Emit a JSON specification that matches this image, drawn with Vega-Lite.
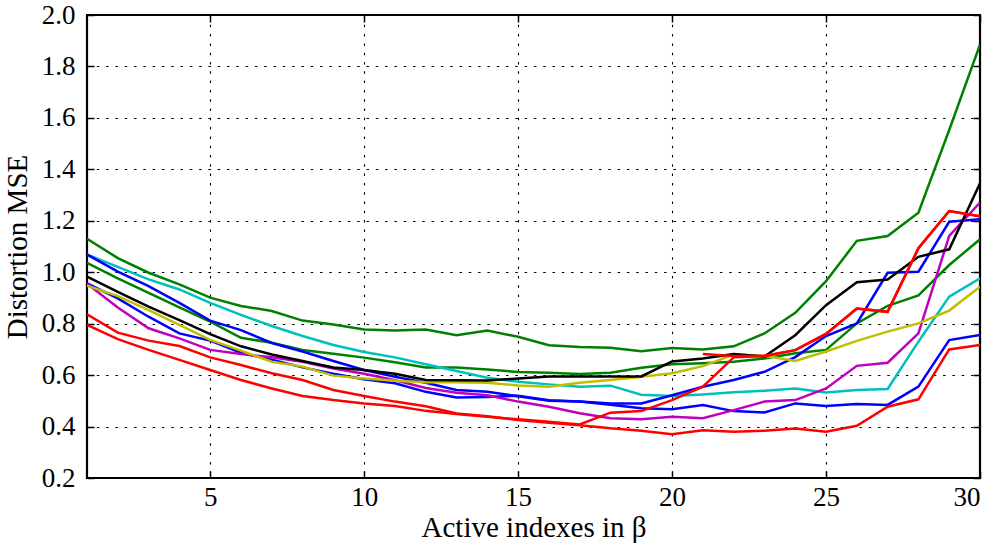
{
 "$schema": "https://vega.github.io/schema/vega-lite/v6.json",
 "width": 893,
 "height": 463,
 "autosize": {"type": "none"},
 "padding": {"left": 87, "top": 15, "right": 15, "bottom": 66},
 "background": "white",
 "config": {
  "view": {"stroke": "black", "strokeWidth": 2.2},
  "font": "Liberation Serif",
  "axis": {
   "domain": false,
   "grid": true,
   "gridColor": "black",
   "gridDash": [2.5, 6.8],
   "gridWidth": 1.1,
   "gridOpacity": 1,
   "tickColor": "black",
   "tickSize": -7,
   "tickWidth": 1.5,
   "labelFont": "Liberation Serif",
   "labelFontSize": 27,
   "labelColor": "black",
   "titleFont": "Liberation Serif",
   "titleFontSize": 29,
   "titleFontWeight": "normal",
   "titleColor": "black"
  }
 },
 "data": {"values": [
  {"s":"g1","x":1,"y":1.13},{"s":"g1","x":2,"y":1.055},{"s":"g1","x":3,"y":0.998},{"s":"g1","x":4,"y":0.953},{"s":"g1","x":5,"y":0.901},{"s":"g1","x":6,"y":0.869},{"s":"g1","x":7,"y":0.849},{"s":"g1","x":8,"y":0.812},{"s":"g1","x":9,"y":0.797},{"s":"g1","x":10,"y":0.777},{"s":"g1","x":11,"y":0.773},{"s":"g1","x":12,"y":0.777},{"s":"g1","x":13,"y":0.755},{"s":"g1","x":14,"y":0.773},{"s":"g1","x":15,"y":0.749},{"s":"g1","x":16,"y":0.716},{"s":"g1","x":17,"y":0.709},{"s":"g1","x":18,"y":0.706},{"s":"g1","x":19,"y":0.693},{"s":"g1","x":20,"y":0.705},{"s":"g1","x":21,"y":0.7},{"s":"g1","x":22,"y":0.712},{"s":"g1","x":23,"y":0.762},{"s":"g1","x":24,"y":0.842},{"s":"g1","x":25,"y":0.965},{"s":"g1","x":26,"y":1.122},{"s":"g1","x":27,"y":1.141},{"s":"g1","x":28,"y":1.231},{"s":"g1","x":29,"y":1.553},{"s":"g1","x":30,"y":1.885},
  {"s":"g2","x":1,"y":1.036},{"s":"g2","x":2,"y":0.976},{"s":"g2","x":3,"y":0.92},{"s":"g2","x":4,"y":0.863},{"s":"g2","x":5,"y":0.808},{"s":"g2","x":6,"y":0.745},{"s":"g2","x":7,"y":0.726},{"s":"g2","x":8,"y":0.698},{"s":"g2","x":9,"y":0.683},{"s":"g2","x":10,"y":0.668},{"s":"g2","x":11,"y":0.65},{"s":"g2","x":12,"y":0.63},{"s":"g2","x":13,"y":0.63},{"s":"g2","x":14,"y":0.622},{"s":"g2","x":15,"y":0.612},{"s":"g2","x":16,"y":0.609},{"s":"g2","x":17,"y":0.604},{"s":"g2","x":18,"y":0.609},{"s":"g2","x":19,"y":0.629},{"s":"g2","x":20,"y":0.642},{"s":"g2","x":21,"y":0.646},{"s":"g2","x":22,"y":0.652},{"s":"g2","x":23,"y":0.665},{"s":"g2","x":24,"y":0.685},{"s":"g2","x":25,"y":0.698},{"s":"g2","x":26,"y":0.801},{"s":"g2","x":27,"y":0.869},{"s":"g2","x":28,"y":0.91},{"s":"g2","x":29,"y":1.028},{"s":"g2","x":30,"y":1.128},
  {"s":"c","x":1,"y":1.069},{"s":"c","x":2,"y":1.021},{"s":"c","x":3,"y":0.972},{"s":"c","x":4,"y":0.933},{"s":"c","x":5,"y":0.881},{"s":"c","x":6,"y":0.834},{"s":"c","x":7,"y":0.791},{"s":"c","x":8,"y":0.752},{"s":"c","x":9,"y":0.717},{"s":"c","x":10,"y":0.69},{"s":"c","x":11,"y":0.669},{"s":"c","x":12,"y":0.642},{"s":"c","x":13,"y":0.616},{"s":"c","x":14,"y":0.59},{"s":"c","x":15,"y":0.574},{"s":"c","x":16,"y":0.564},{"s":"c","x":17,"y":0.555},{"s":"c","x":18,"y":0.559},{"s":"c","x":19,"y":0.524},{"s":"c","x":20,"y":0.519},{"s":"c","x":21,"y":0.525},{"s":"c","x":22,"y":0.533},{"s":"c","x":23,"y":0.539},{"s":"c","x":24,"y":0.548},{"s":"c","x":25,"y":0.532},{"s":"c","x":26,"y":0.542},{"s":"c","x":27,"y":0.546},{"s":"c","x":28,"y":0.73},{"s":"c","x":29,"y":0.905},{"s":"c","x":30,"y":0.976},
  {"s":"b1","x":1,"y":1.069},{"s":"b1","x":2,"y":1.002},{"s":"b1","x":3,"y":0.946},{"s":"b1","x":4,"y":0.881},{"s":"b1","x":5,"y":0.812},{"s":"b1","x":6,"y":0.775},{"s":"b1","x":7,"y":0.725},{"s":"b1","x":8,"y":0.692},{"s":"b1","x":9,"y":0.655},{"s":"b1","x":10,"y":0.62},{"s":"b1","x":11,"y":0.594},{"s":"b1","x":12,"y":0.57},{"s":"b1","x":13,"y":0.542},{"s":"b1","x":14,"y":0.535},{"s":"b1","x":15,"y":0.518},{"s":"b1","x":16,"y":0.5},{"s":"b1","x":17,"y":0.497},{"s":"b1","x":18,"y":0.49},{"s":"b1","x":19,"y":0.49},{"s":"b1","x":20,"y":0.522},{"s":"b1","x":21,"y":0.555},{"s":"b1","x":22,"y":0.581},{"s":"b1","x":23,"y":0.613},{"s":"b1","x":24,"y":0.67},{"s":"b1","x":25,"y":0.752},{"s":"b1","x":26,"y":0.801},{"s":"b1","x":27,"y":0.998},{"s":"b1","x":28,"y":1.002},{"s":"b1","x":29,"y":1.196},{"s":"b1","x":30,"y":1.206},
  {"s":"b2","x":1,"y":0.957},{"s":"b2","x":2,"y":0.898},{"s":"b2","x":3,"y":0.827},{"s":"b2","x":4,"y":0.762},{"s":"b2","x":5,"y":0.734},{"s":"b2","x":6,"y":0.687},{"s":"b2","x":7,"y":0.66},{"s":"b2","x":8,"y":0.63},{"s":"b2","x":9,"y":0.605},{"s":"b2","x":10,"y":0.584},{"s":"b2","x":11,"y":0.568},{"s":"b2","x":12,"y":0.535},{"s":"b2","x":13,"y":0.513},{"s":"b2","x":14,"y":0.515},{"s":"b2","x":15,"y":0.52},{"s":"b2","x":16,"y":0.502},{"s":"b2","x":17,"y":0.497},{"s":"b2","x":18,"y":0.485},{"s":"b2","x":19,"y":0.471},{"s":"b2","x":20,"y":0.467},{"s":"b2","x":21,"y":0.484},{"s":"b2","x":22,"y":0.46},{"s":"b2","x":23,"y":0.455},{"s":"b2","x":24,"y":0.49},{"s":"b2","x":25,"y":0.48},{"s":"b2","x":26,"y":0.488},{"s":"b2","x":27,"y":0.484},{"s":"b2","x":28,"y":0.555},{"s":"b2","x":29,"y":0.736},{"s":"b2","x":30,"y":0.756},
  {"s":"m","x":1,"y":0.955},{"s":"m","x":2,"y":0.863},{"s":"m","x":3,"y":0.782},{"s":"m","x":4,"y":0.743},{"s":"m","x":5,"y":0.698},{"s":"m","x":6,"y":0.682},{"s":"m","x":7,"y":0.669},{"s":"m","x":8,"y":0.652},{"s":"m","x":9,"y":0.626},{"s":"m","x":10,"y":0.605},{"s":"m","x":11,"y":0.58},{"s":"m","x":12,"y":0.55},{"s":"m","x":13,"y":0.531},{"s":"m","x":14,"y":0.522},{"s":"m","x":15,"y":0.497},{"s":"m","x":16,"y":0.477},{"s":"m","x":17,"y":0.452},{"s":"m","x":18,"y":0.432},{"s":"m","x":19,"y":0.428},{"s":"m","x":20,"y":0.438},{"s":"m","x":21,"y":0.432},{"s":"m","x":22,"y":0.464},{"s":"m","x":23,"y":0.497},{"s":"m","x":24,"y":0.503},{"s":"m","x":25,"y":0.548},{"s":"m","x":26,"y":0.636},{"s":"m","x":27,"y":0.648},{"s":"m","x":28,"y":0.762},{"s":"m","x":29,"y":1.141},{"s":"m","x":30,"y":1.271},
  {"s":"yl","x":1,"y":0.948},{"s":"yl","x":2,"y":0.907},{"s":"yl","x":3,"y":0.853},{"s":"yl","x":4,"y":0.795},{"s":"yl","x":5,"y":0.737},{"s":"yl","x":6,"y":0.695},{"s":"yl","x":7,"y":0.652},{"s":"yl","x":8,"y":0.633},{"s":"yl","x":9,"y":0.598},{"s":"yl","x":10,"y":0.587},{"s":"yl","x":11,"y":0.578},{"s":"yl","x":12,"y":0.572},{"s":"yl","x":13,"y":0.572},{"s":"yl","x":14,"y":0.57},{"s":"yl","x":15,"y":0.56},{"s":"yl","x":16,"y":0.555},{"s":"yl","x":17,"y":0.57},{"s":"yl","x":18,"y":0.581},{"s":"yl","x":19,"y":0.594},{"s":"yl","x":20,"y":0.607},{"s":"yl","x":21,"y":0.635},{"s":"yl","x":22,"y":0.68},{"s":"yl","x":23,"y":0.675},{"s":"yl","x":24,"y":0.655},{"s":"yl","x":25,"y":0.692},{"s":"yl","x":26,"y":0.733},{"s":"yl","x":27,"y":0.769},{"s":"yl","x":28,"y":0.801},{"s":"yl","x":29,"y":0.851},{"s":"yl","x":30,"y":0.944},
  {"s":"k","x":1,"y":0.983},{"s":"k","x":2,"y":0.924},{"s":"k","x":3,"y":0.866},{"s":"k","x":4,"y":0.814},{"s":"k","x":5,"y":0.759},{"s":"k","x":6,"y":0.712},{"s":"k","x":7,"y":0.68},{"s":"k","x":8,"y":0.655},{"s":"k","x":9,"y":0.63},{"s":"k","x":10,"y":0.62},{"s":"k","x":11,"y":0.605},{"s":"k","x":12,"y":0.581},{"s":"k","x":13,"y":0.58},{"s":"k","x":14,"y":0.579},{"s":"k","x":15,"y":0.587},{"s":"k","x":16,"y":0.595},{"s":"k","x":17,"y":0.595},{"s":"k","x":18,"y":0.595},{"s":"k","x":19,"y":0.595},{"s":"k","x":20,"y":0.653},{"s":"k","x":21,"y":0.665},{"s":"k","x":22,"y":0.682},{"s":"k","x":23,"y":0.672},{"s":"k","x":24,"y":0.755},{"s":"k","x":25,"y":0.872},{"s":"k","x":26,"y":0.961},{"s":"k","x":27,"y":0.972},{"s":"k","x":28,"y":1.06},{"s":"k","x":29,"y":1.089},{"s":"k","x":30,"y":1.346},
  {"s":"r1","x":1,"y":0.836},{"s":"r1","x":2,"y":0.765},{"s":"r1","x":3,"y":0.734},{"s":"r1","x":4,"y":0.713},{"s":"r1","x":5,"y":0.669},{"s":"r1","x":6,"y":0.639},{"s":"r1","x":7,"y":0.607},{"s":"r1","x":8,"y":0.581},{"s":"r1","x":9,"y":0.542},{"s":"r1","x":10,"y":0.519},{"s":"r1","x":11,"y":0.497},{"s":"r1","x":12,"y":0.479},{"s":"r1","x":13,"y":0.451},{"s":"r1","x":14,"y":0.44},{"s":"r1","x":15,"y":0.425},{"s":"r1","x":16,"y":0.415},{"s":"r1","x":17,"y":0.405},{"s":"r1","x":18,"y":0.393},{"s":"r1","x":19,"y":0.384},{"s":"r1","x":20,"y":0.37},{"s":"r1","x":21,"y":0.386},{"s":"r1","x":22,"y":0.38},{"s":"r1","x":23,"y":0.384},{"s":"r1","x":24,"y":0.392},{"s":"r1","x":25,"y":0.38},{"s":"r1","x":26,"y":0.403},{"s":"r1","x":27,"y":0.477},{"s":"r1","x":28,"y":0.506},{"s":"r1","x":29,"y":0.7},{"s":"r1","x":30,"y":0.717},
  {"s":"r2","x":1,"y":0.795},{"s":"r2","x":2,"y":0.74},{"s":"r2","x":3,"y":0.698},{"s":"r2","x":4,"y":0.659},{"s":"r2","x":5,"y":0.62},{"s":"r2","x":6,"y":0.581},{"s":"r2","x":7,"y":0.548},{"s":"r2","x":8,"y":0.519},{"s":"r2","x":9,"y":0.503},{"s":"r2","x":10,"y":0.49},{"s":"r2","x":11,"y":0.48},{"s":"r2","x":12,"y":0.461},{"s":"r2","x":13,"y":0.449},{"s":"r2","x":14,"y":0.438},{"s":"r2","x":15,"y":0.428},{"s":"r2","x":16,"y":0.419},{"s":"r2","x":17,"y":0.408},{"s":"r2","x":18,"y":0.454},{"s":"r2","x":19,"y":0.46},{"s":"r2","x":20,"y":0.503},{"s":"r2","x":21,"y":0.555},{"s":"r2","x":22,"y":0.669},{"s":"r2","x":23,"y":0.674},{"s":"r2","x":24,"y":0.697},{"s":"r2","x":25,"y":0.76},{"s":"r2","x":26,"y":0.859},{"s":"r2","x":27,"y":0.846},{"s":"r2","x":28,"y":1.093},{"s":"r2","x":29,"y":1.238},{"s":"r2","x":30,"y":1.218},
  {"s":"r3","x":21,"y":0.682},{"s":"r3","x":22,"y":0.674},{"s":"r3","x":23,"y":0.674},{"s":"r3","x":24,"y":0.697},{"s":"r3","x":25,"y":0.76},{"s":"r3","x":26,"y":0.859},{"s":"r3","x":27,"y":0.846},{"s":"r3","x":28,"y":1.093},{"s":"r3","x":29,"y":1.238},{"s":"r3","x":30,"y":1.218}
 ]},
 "layer": [
  {
   "mark": {"type": "line", "strokeWidth": 2.5, "clip": true},
   "encoding": {
    "x": {"field": "x", "type": "quantitative", "scale": {"domain": [1, 30], "nice": false, "zero": false},
          "axis": {"values": [5, 10, 15, 20, 25, 30], "title": "Active indexes in β", "labelPadding": 13, "titlePadding": 3}},
    "y": {"field": "y", "type": "quantitative", "scale": {"domain": [0.2, 2.0], "nice": false, "zero": false},
          "axis": {"values": [0.2, 0.4, 0.6, 0.8, 1.0, 1.2, 1.4, 1.6, 1.8, 2.0], "format": ".1f", "title": "Distortion MSE", "labelPadding": 19, "titlePadding": 9}},
    "color": {"field": "s", "type": "nominal", "legend": null,
              "scale": {"domain": ["g1","g2","c","b1","b2","m","yl","k","r1","r2","r3"],
                        "range": ["#008000","#008000","#00bfbf","#0000ff","#0000ff","#bf00bf","#bfbf00","#000000","#ff0000","#ff0000","#ff0000"]}}
   }
  },
  {
   "mark": {"type": "line", "opacity": 0},
   "encoding": {
    "x": {"field": "x", "type": "quantitative", "scale": {"domain": [1, 30], "nice": false, "zero": false},
          "axis": {"orient": "top", "values": [5, 10, 15, 20, 25, 30], "labels": false, "grid": false, "title": null}},
    "y": {"field": "y", "type": "quantitative", "scale": {"domain": [0.2, 2.0], "nice": false, "zero": false},
          "axis": {"orient": "right", "values": [0.2, 0.4, 0.6, 0.8, 1.0, 1.2, 1.4, 1.6, 1.8, 2.0], "labels": false, "grid": false, "title": null}},
    "detail": {"field": "s"}
   }
  }
 ],
 "resolve": {"axis": {"x": "independent", "y": "independent"}}
}
